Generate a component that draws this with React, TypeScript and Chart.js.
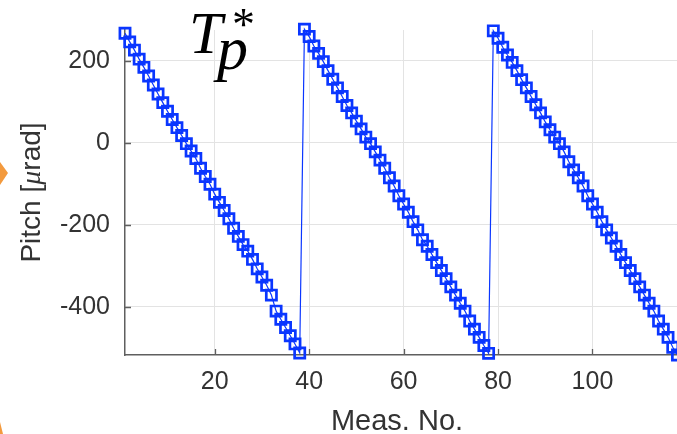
import React, { useEffect, useRef } from "react";
import { Chart, registerables } from "chart.js";

Chart.register(...registerables);

// Pitch readings [μrad], one per measurement number (1..118)
const pitchCycle1 = [
  267, 246, 226, 204, 184, 163, 141, 119, 98, 77, 57, 37, 18, -2, -20, -38,
  -62, -82, -101, -125, -145, -165, -185, -208, -228, -248, -264, -284, -307,
  -327, -347, -371, -410, -430, -450, -470, -490, -512,
];
const pitchCycle2 = [
  277, 259, 236, 218, 198, 176, 155, 134, 113, 91, 73, 53, 34, 14, -2, -22,
  -42, -62, -85, -105, -129, -149, -169, -192, -212, -236, -252, -272, -292,
  -311, -331, -351, -371, -391, -410, -434, -454, -474, -494, -513,
];
const pitchCycle3 = [
  273, 255, 233, 214, 196, 176, 154, 134, 113, 93, 73, 51, 32, 14, -2, -22,
  -46, -66, -85, -105, -129, -149, -169, -192, -212, -232, -252, -272, -292,
  -311, -331, -351, -371, -391, -410, -434, -454, -474, -498, -517,
];
const xTickValues = [20, 40, 60, 80, 100];
const yTickValues = [-400, -200, 0, 200];
const xTitle = "Meas. No.";
const yTitleParts = ["Pitch [", "\u03BC", "rad]"];
const plotTitle = { main: "T", sub: "p", sup: "*" };

const pitch = [...pitchCycle1, ...pitchCycle2, ...pitchCycle3];

const AXIS = "#5f5f5f";
const TEXT = "#333333";
const BLUE = "#0a36ff";

const decorPlugin = {
  id: "decor",
  afterDraw(chart: any) {
    const ctx = chart.ctx as CanvasRenderingContext2D;
    const area = chart.chartArea;
    const xs = chart.scales.x;
    const ys = chart.scales.y;
    ctx.save();
    // inward tick marks
    ctx.strokeStyle = AXIS;
    ctx.lineWidth = 1.3;
    ctx.beginPath();
    for (const v of xTickValues) {
      const px = Math.round(xs.getPixelForValue(v)) + 0.5;
      ctx.moveTo(px, area.bottom);
      ctx.lineTo(px, area.bottom - 6);
    }
    for (const v of yTickValues) {
      const py = Math.round(ys.getPixelForValue(v)) + 0.5;
      ctx.moveTo(area.left, py);
      ctx.lineTo(area.left + 6, py);
    }
    ctx.stroke();

    // x title
    ctx.fillStyle = TEXT;
    ctx.font = '29px "Liberation Sans", Arial, sans-serif';
    ctx.textAlign = "center";
    ctx.textBaseline = "alphabetic";
    ctx.fillText(xTitle, 397, 430);

    // y title (rotated), with italic mu
    const fonts = [
      '28px "Liberation Sans", Arial, sans-serif',
      'italic 28px "Liberation Serif", "DejaVu Serif", serif',
      '28px "Liberation Sans", Arial, sans-serif',
    ];
    const widths = yTitleParts.map((t, i) => {
      ctx.font = fonts[i];
      return ctx.measureText(t).width;
    });
    const total = widths.reduce((a, b) => a + b, 0);
    ctx.translate(40, (area.top + area.bottom) / 2);
    ctx.rotate(-Math.PI / 2);
    ctx.textAlign = "left";
    let cx = -total / 2;
    yTitleParts.forEach((t, i) => {
      ctx.font = fonts[i];
      ctx.fillText(t, cx, 0);
      cx += widths[i];
    });
    ctx.setTransform(1, 0, 0, 1, 0, 0);

    // T_p^* title
    ctx.fillStyle = "#000";
    ctx.textAlign = "left";
    ctx.font = 'italic 60px "Liberation Serif", "DejaVu Serif", serif';
    ctx.fillText(plotTitle.main, 189, 53);
    ctx.font = 'italic 62px "Liberation Serif", "DejaVu Serif", serif';
    ctx.fillText(plotTitle.sub, 217, 69);
    ctx.font = '46px "Liberation Serif", "DejaVu Serif", serif';
    ctx.fillText(plotTitle.sup, 232, 40);

    // fragments of neighbouring figure (orange)
    ctx.fillStyle = "#f39a3e";
    ctx.beginPath();
    ctx.moveTo(0, 162);
    ctx.lineTo(8, 173);
    ctx.lineTo(0, 185);
    ctx.closePath();
    ctx.fill();
    ctx.beginPath();
    ctx.moveTo(0, 422);
    ctx.lineTo(3, 434);
    ctx.lineTo(0, 434);
    ctx.closePath();
    ctx.fill();
    ctx.restore();
  },
};

export default function App() {
  const ref = useRef<HTMLCanvasElement | null>(null);
  useEffect(() => {
    if (!ref.current) return;
    const chart = new Chart(ref.current, {
      type: "line",
      data: {
        datasets: [
          {
            data: pitch.map((v, i) => ({ x: i + 1, y: v })),
            borderColor: BLUE,
            borderWidth: 1.2,
            pointStyle: "rect",
            pointRadius: 7.2,
            pointBorderWidth: 2.7,
            pointBorderColor: BLUE,
            pointBackgroundColor: "rgba(0,0,0,0)",
            tension: 0,
            clip: false as any,
          },
        ],
      },
      options: {
        animation: false,
        responsive: false,
        maintainAspectRatio: false,
        layout: { autoPadding: false, padding: { top: 22, right: 0, left: 0, bottom: 0 } },
        plugins: {
          legend: { display: false },
          tooltip: { enabled: false },
          title: { display: false },
        },
        scales: {
          x: {
            type: "linear",
            min: 1,
            max: 117.9,
            afterBuildTicks: (s: any) => {
              s.ticks = xTickValues.map((v) => ({ value: v }));
            },
            afterFit: (s: any) => {
              s.height = 79;
            },
            grid: { color: "#e3e3e3", lineWidth: 1, drawTicks: false },
            border: { color: AXIS, width: 1.5 },
            ticks: {
              padding: 12,
              color: TEXT,
              maxRotation: 0,
              font: { family: '"Liberation Sans", Arial, sans-serif', size: 25 },
            },
          },
          y: {
            type: "linear",
            min: -517,
            max: 275,
            afterBuildTicks: (s: any) => {
              s.ticks = yTickValues.map((v) => ({ value: v }));
            },
            afterFit: (s: any) => {
              s.width = 125;
            },
            grid: { color: "#e3e3e3", lineWidth: 1, drawTicks: false },
            border: { color: AXIS, width: 1.5 },
            ticks: {
              padding: 15,
              color: TEXT,
              font: { family: '"Liberation Sans", Arial, sans-serif', size: 25 },
            },
          },
        },
      },
      plugins: [decorPlugin],
    });
    return () => chart.destroy();
  }, []);
  return (
    <div style={{ position: "fixed", left: 0, top: 0, width: 677, height: 434, background: "#fff" }}>
      <canvas ref={ref} width={677} height={434} style={{ width: 677, height: 434, display: "block" }} />
    </div>
  );
}
